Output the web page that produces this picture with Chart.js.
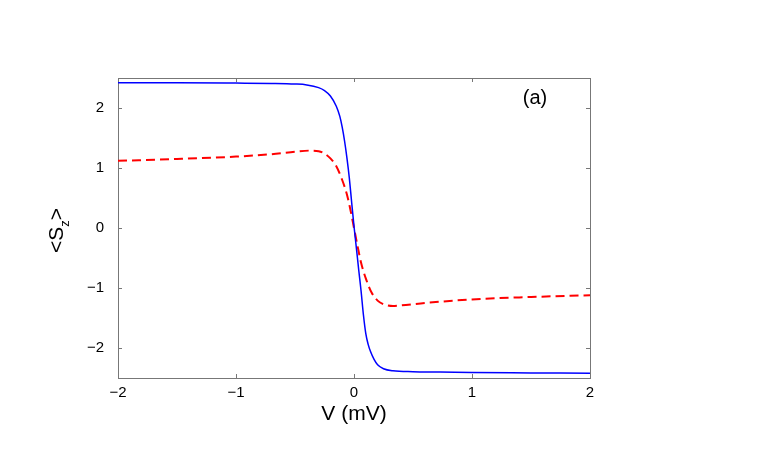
<!DOCTYPE html>
<html>
<head>
<meta charset="utf-8">
<script src="https://cdn.jsdelivr.net/npm/chart.js@4/dist/chart.umd.min.js"></script>
<style>
html,body{margin:0;padding:0;background:#fff;}
canvas{display:block;}
</style>
</head>
<body>
<canvas id="c" width="772" height="457"></canvas>
<script>
// Blue solid curve
const blueV = [-2, -1.5, -1, -0.7, -0.5, -0.4, -0.3, -0.25, -0.2, -0.15, -0.12, -0.1, -0.08, -0.06, -0.04, -0.02, 0, 0.02, 0.04, 0.06, 0.08, 0.1, 0.12, 0.14, 0.17, 0.2, 0.25, 0.33, 0.5, 0.73, 1, 1.5, 2];
const blueS = [2.42, 2.42, 2.415, 2.41, 2.40, 2.385, 2.34, 2.29, 2.20, 2.03, 1.86, 1.68, 1.45, 1.17, 0.84, 0.43, 0.03, -0.33, -0.70, -1.05, -1.45, -1.76, -1.94, -2.06, -2.19, -2.28, -2.345, -2.38, -2.395, -2.40, -2.41, -2.415, -2.42];
// Red dashed curve
const redV = [-2, -1.5, -1, -0.7, -0.5, -0.37, -0.3, -0.25, -0.2, -0.15, -0.1, -0.06, -0.03, 0, 0.03, 0.06, 0.1, 0.15, 0.2, 0.25, 0.33, 0.4, 0.6, 1, 1.5, 2];
const redS = [1.12, 1.15, 1.19, 1.23, 1.27, 1.29, 1.28, 1.24, 1.16, 1.03, 0.80, 0.56, 0.30, 0.0, -0.30, -0.58, -0.84, -1.08, -1.21, -1.27, -1.30, -1.29, -1.25, -1.19, -1.15, -1.12];
const xTicks = [-2, -1, 0, 1, 2];
const yTicks = [-2, -1, 0, 1, 2];
const xTitle = "V (mV)";
const panelLabel = "(a)";

const toPts = (xs, ys) => xs.map((x, i) => ({x: x, y: ys[i]}));
const fmt = v => (v < 0 ? '\u2212' + Math.abs(v) : String(v));

const framePlugin = {
  id: 'frame',
  beforeDatasetsDraw(chart) {
    const {ctx, chartArea: a, scales} = chart;
    ctx.save();
    ctx.strokeStyle = '#777';
    ctx.lineWidth = 1;
    ctx.strokeRect(a.left + 0.5, a.top + 0.5, a.right - a.left, a.bottom - a.top);
    ctx.beginPath();
    xTicks.forEach(v => {
      const px = Math.round(scales.x.getPixelForValue(v)) + 0.5;
      ctx.moveTo(px, a.bottom); ctx.lineTo(px, a.bottom - 4);
      ctx.moveTo(px, a.top); ctx.lineTo(px, a.top + 4);
    });
    yTicks.forEach(v => {
      const py = Math.round(scales.y.getPixelForValue(v)) + 0.5;
      ctx.moveTo(a.left, py); ctx.lineTo(a.left + 4, py);
      ctx.moveTo(a.right, py); ctx.lineTo(a.right - 4, py);
    });
    ctx.stroke();
    ctx.restore();
  },
  afterDraw(chart) {
    const {ctx, scales} = chart;
    ctx.save();
    ctx.fillStyle = '#000';
    // x title
    ctx.font = '21px "Liberation Sans", Arial, sans-serif';
    ctx.textAlign = 'center';
    ctx.textBaseline = 'alphabetic';
    ctx.fillText(xTitle, scales.x.getPixelForValue(0), 420);
    // panel label
    ctx.font = '20px "Liberation Sans", Arial, sans-serif';
    ctx.textBaseline = 'middle';
    ctx.fillText(panelLabel, 535, 98);
    // y title <S_z> rotated
    ctx.translate(63, 253);
    ctx.rotate(-Math.PI / 2);
    ctx.textAlign = 'left';
    ctx.textBaseline = 'alphabetic';
    ctx.font = '21px "Liberation Sans", Arial, sans-serif';
    const p1 = '<S';
    ctx.fillText(p1, 0, 0);
    let w = ctx.measureText(p1).width;
    ctx.font = '13px "Liberation Sans", Arial, sans-serif';
    ctx.fillText('z', w, 6);
    w += ctx.measureText('z').width;
    ctx.font = '21px "Liberation Sans", Arial, sans-serif';
    ctx.fillText('>', w, 0);
    ctx.restore();
  }
};

new Chart(document.getElementById('c'), {
  type: 'line',
  data: {
    datasets: [
      {
        data: toPts(blueV, blueS),
        borderColor: '#0000ff',
        borderWidth: 1.5,
        pointRadius: 0,
        cubicInterpolationMode: 'monotone',
        fill: false
      },
      {
        data: toPts(redV, redS),
        borderColor: '#ff0000',
        borderWidth: 2,
        borderDash: [9, 5],
        pointRadius: 0,
        cubicInterpolationMode: 'monotone',
        fill: false
      }
    ]
  },
  options: {
    responsive: false,
    animation: false,
    events: [],
    layout: {padding: {top: 78, right: 182, left: 0, bottom: 0}},
    plugins: {legend: {display: false}, tooltip: {enabled: false}},
    scales: {
      x: {
        type: 'linear', min: -2, max: 2,
        afterFit(s) { s.height = 79; },
        afterBuildTicks(s) { s.ticks = xTicks.map(v => ({value: v})); },
        grid: {display: false, drawTicks: false},
        border: {display: false},
        ticks: {color: '#000', padding: 6, maxRotation: 0, font: {family: '"Liberation Sans", Arial, sans-serif', size: 15}, callback: v => fmt(v)}
      },
      y: {
        type: 'linear', min: -2.5, max: 2.5,
        afterFit(s) { s.width = 118; },
        afterBuildTicks(s) { s.ticks = yTicks.map(v => ({value: v})); },
        grid: {display: false, drawTicks: false},
        border: {display: false},
        ticks: {color: '#000', padding: 14, font: {family: '"Liberation Sans", Arial, sans-serif', size: 15}, callback: v => fmt(v)}
      }
    }
  },
  plugins: [framePlugin]
});
</script>
</body>
</html>
